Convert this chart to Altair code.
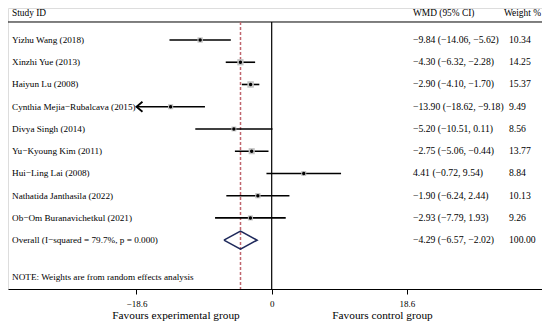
import altair as alt
import pandas as pd

# ---- data ----
studies = ["Yizhu Wang (2018)", "Xinzhi Yue (2013)", "Haiyun Lu (2008)",
           "Cynthia Mejia\u2212Rubalcava (2015)", "Divya Singh (2014)",
           "Yu\u2212Kyoung Kim (2011)", "Hui\u2212Ling Lai (2008)",
           "Nathatida Janthasila (2022)", "Ob\u2212Om Buranavichetkul (2021)"]
wmd = [-9.84, -4.30, -2.90, -13.90, -5.20, -2.75, 4.41, -1.90, -2.93]
ci_low = [-14.06, -6.32, -4.10, -18.62, -10.51, -5.06, -0.72, -6.24, -7.79]
ci_high = [-5.62, -2.28, -1.70, -9.18, 0.11, -0.44, 9.54, 2.44, 1.93]
weights = [10.34, 14.25, 15.37, 9.49, 8.56, 13.77, 8.84, 10.13, 9.26]
overall_label = "Overall  (I\u2212squared = 79.7%, p = 0.000)"
overall_est = -4.29
overall_low = -6.57
overall_high = -2.02
overall_weight = 100.00
tick_values = [-18.6, 0, 18.6]
note = "NOTE: Weights are from random effects analysis"
headers = ["Study  ID", "WMD (95% CI)", "Weight %"]
favours = ["Favours experimental group", "Favours control group"]

# ---- layout constants ----
W, H = 534, 281
XDOM = [-36.27, 37.18]
YDOM = [-0.439, 12.196]
CLIP = -18.6
SERIF = "Liberation Serif"


def fmt(v):
    return f"{v:.2f}".replace("-", "\u2212")


rows = list(range(1, len(studies) + 1))
df = pd.DataFrame({
    "row": rows, "study": studies, "est": wmd,
    "lo": [max(v, CLIP) for v in ci_low], "hi": ci_high, "w": weights,
    "clipped": [v < CLIP for v in ci_low],
    "ci_txt": [f"{fmt(e)} ({fmt(l)}, {fmt(h)})" for e, l, h in zip(wmd, ci_low, ci_high)],
    "w_txt": [f"{w:.2f}" for w in weights],
})
df_over = pd.DataFrame({
    "row": [len(studies) + 1], "study": [overall_label],
    "ci_txt": [f"{fmt(overall_est)} ({fmt(overall_low)}, {fmt(overall_high)})"],
    "w_txt": [f"{overall_weight:.2f}"],
})
labels = pd.concat([df[["row", "study", "ci_txt", "w_txt"]], df_over], ignore_index=True)

xs = alt.Scale(domain=XDOM, nice=False, zero=False)
ys = alt.Scale(domain=YDOM, nice=False, zero=False, reverse=True)
xaxis = alt.Axis(values=tick_values, format=".1~f", labelFont=SERIF, labelFontSize=9,
                 labelColor="black", tickColor="black", tickSize=5, domainColor="black",
                 domainWidth=1, tickWidth=1, grid=False, labelPadding=5, labelFlush=False,
                 title=None)


def X(field):
    return alt.X(field, type="quantitative", scale=xs, axis=xaxis, title=None)


def Y(field):
    return alt.Y(field, type="quantitative", scale=ys, axis=None, title=None)


base = alt.Chart(df)

top_rule = alt.Chart(pd.DataFrame({"x": [XDOM[0]], "x2": [XDOM[1]], "r": [0.19]})).mark_rule(
    color="black", strokeWidth=1).encode(y=Y("r"), x=X("x"), x2="x2")

zero_rule = alt.Chart(pd.DataFrame({"x": [0], "r": [0.19]})).mark_rule(color="black", strokeWidth=1.2).encode(
    x=X("x"), y=Y("r"), y2=alt.value(H))

over_rule = alt.Chart(pd.DataFrame({"x": [overall_est], "r": [0.19]})).mark_rule(
    color="#c0656d", strokeWidth=1.5, strokeDash=[3, 2]).encode(
    x=X("x"), y=Y("r"), y2=alt.value(H))

ci = base.mark_rule(color="black", strokeWidth=1.6).encode(
    x=X("lo"), x2="hi", y=Y("row"))

boxes = base.mark_square(color="#c4c4c4", opacity=1).encode(
    x=X("est"), y=Y("row"), size=alt.Size("w:Q", scale=alt.Scale(domain=[0, 16], range=[0, 44]), legend=None))

dots = base.mark_circle(color="black", size=12, opacity=1).encode(x=X("est"), y=Y("row"))

arrow = alt.Chart(df[df["clipped"]]).mark_point(
    shape="M1.2,-1 L0,0 L1.2,1", filled=False, color="black", strokeWidth=1.8, size=100, opacity=1).encode(
    x=X("lo"), y=Y("row"))

d = len(studies) + 1
diamond_df = pd.DataFrame({
    "x": [overall_low, overall_est, overall_high, overall_est, overall_low],
    "y": [d, d - 0.405, d, d + 0.405, d],
    "o": [0, 1, 2, 3, 4],
})
diamond = alt.Chart(diamond_df).mark_line(color="#1f2a5c", strokeWidth=1.6).encode(
    x=X("x"), y=Y("y"), order="o:Q")

lab = alt.Chart(labels)
name_txt = lab.mark_text(align="left", baseline="middle", font=SERIF, fontSize=9.2, color="black").encode(
    x=alt.value(4), y=Y("row"), text="study:N")
ci_txt = lab.mark_text(align="left", baseline="middle", font=SERIF, fontSize=9.7, color="black").encode(
    x=alt.value(405), y=Y("row"), text="ci_txt:N")
w_txt = lab.mark_text(align="left", baseline="middle", font=SERIF, fontSize=9.7, color="black").encode(
    x=alt.value(501), y=Y("row"), text="w_txt:N")

hdr_df = pd.DataFrame({"t": headers, "r": [-0.2] * 3})
hdr_layers = [
    alt.Chart(hdr_df.iloc[[i]]).mark_text(align="left", baseline="middle", font=SERIF, fontSize=9.4,
                                          color="black").encode(x=alt.value(px), y=Y("r"), text="t:N")
    for i, px in enumerate([4, 405, 496])
]

note_layer = alt.Chart(pd.DataFrame({"t": [note], "r": [11.66]})).mark_text(
    align="left", baseline="middle", font=SERIF, fontSize=9.2, color="black").encode(
    x=alt.value(4), y=Y("r"), text="t:N")

fav = pd.DataFrame({"t": favours, "x": [-13.16, 15.24], "r": [13.42, 13.42]})
fav_layer = alt.Chart(fav).mark_text(align="center", baseline="middle", font=SERIF, fontSize=11.3,
                                     color="black").encode(x=X("x"), y=Y("r"), text="t:N")

chart = alt.layer(
    top_rule, over_rule, zero_rule, ci, boxes, dots, arrow, diamond,
    name_txt, ci_txt, w_txt, *hdr_layers, note_layer, fav_layer,
).properties(
    width=W, height=H, autosize=alt.AutoSizeParams(type="none"),
    padding={"left": 0, "top": 0, "right": 0, "bottom": 35},
).configure_view(stroke=None).configure(background="white")

chart.save("out.html", embed_options={"renderer": "svg", "actions": False})
